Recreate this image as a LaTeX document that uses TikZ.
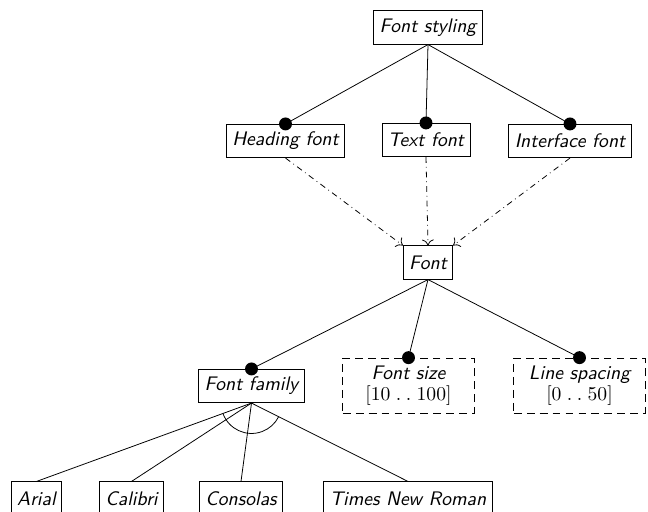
\documentclass[tikz,border=0pt]{standalone}
\usetikzlibrary{calc,arrows.meta}
\begin{document}
\begin{tikzpicture}[x=0.51pt,y=-0.51pt,
  feat/.style={draw, font=\sffamily\itshape, inner sep=3pt, minimum height=17pt},
  attr/.style={draw, dash pattern=on 4pt off 2.6pt, align=center, font=\sffamily\itshape,
    minimum width=67pt, minimum height=28pt, inner sep=2pt},
  mand/.style={fill=black},
  refine/.style={dash dot, -{To[length=3pt,width=6pt]}}]
\useasboundingbox (0,0) rectangle (648,512);
\clip (0,0) rectangle (648,512);

% features
\node[feat] (fs) at (428,27.5) {Font styling};
\node[feat] (hf) at (285.5,141) {Heading font};
\node[feat] (tf) at (426,140) {Text font};
\node[feat] (if) at (570,141) {Interface font};
\node[feat] (fo) at (428,262.5) {Font};
\node[feat] (ff) at (251.5,386) {Font family};
\node[attr] (sz) at (408.5,385.5) {Font size\\[-1pt]$[10\;.\mskip4mu.\;100]$};
\node[attr] (ls) at (579.5,385.5) {Line spacing\\[-1pt]$[0\;.\mskip4mu.\;50]$};
\node[feat] (ar) at (36.5,498.5) {Arial};
\node[feat] (ca) at (131.5,498.5) {Calibri};
\node[feat] (co) at (241,498.5) {Consolas};
\node[feat] (tn) at (408,498.5) {Times New Roman};

% mandatory children
\draw (fs.south) -- (hf.north);
\draw (fs.south) -- (tf.north);
\draw (fs.south) -- (if.north);
\draw (fo.south) -- (ff.north);
\draw (fo.south) -- (sz.north);
\draw (fo.south) -- (ls.north);
\foreach \n in {hf,tf,if,ff,sz,ls} \fill[mand] (\n.north) circle (3.3pt);

% refinements into the shared font feature
\draw[refine] (hf.south) -- (fo.north west);
\draw[refine] (tf.south) -- (fo.north);
\draw[refine] (if.south) -- (fo.north east);

% alternative group
\draw (ff.south) -- (ar.north);
\draw (ff.south) -- (ca.north);
\draw (ff.south) -- (co.north);
\draw (ff.south) -- (tn.north);
\draw let \p1=($(ar.north)-(ff.south)$), \p2=($(tn.north)-(ff.south)$),
  \n1={atan2(\y1,\x1)+360}, \n2={atan2(\y2,\x2)+360} in
  ($(ff.south)!15.5pt!(ar.north)$) arc[start angle=\n1, end angle=\n2, radius=15.5pt];
\end{tikzpicture}
\end{document}
